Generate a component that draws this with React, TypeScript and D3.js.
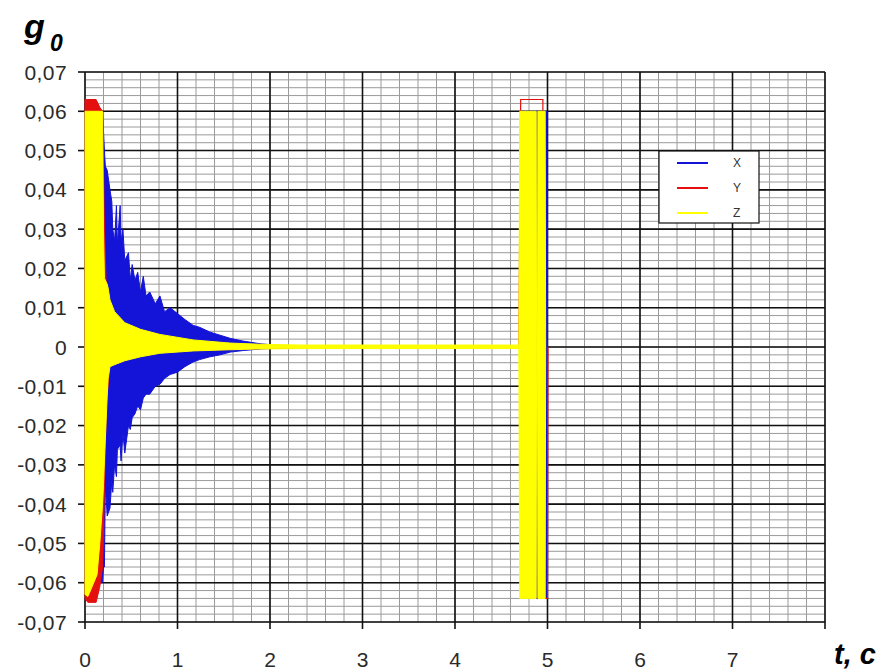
import React from "react";
import * as d3 from "d3";

// ---- Data ----
const xTicks = [0, 1, 2, 3, 4, 5, 6, 7];
const yTicks = [-0.07, -0.06, -0.05, -0.04, -0.03, -0.02, -0.01, 0, 0.01, 0.02, 0.03, 0.04, 0.05, 0.06, 0.07];
const seriesNames = ["X", "Y", "Z"];
const seriesColors = ["#1414d8", "#e41010", "#ffff00"];

// X (blue) envelope
const xTime = [0, 0.19, 0.2, 0.21, 0.22, 0.24, 0.27, 0.29, 0.3, 0.32, 0.34, 0.35, 0.38, 0.39, 0.41, 0.43, 0.47, 0.49, 0.51, 0.54, 0.57, 0.6, 0.63, 0.66, 0.7, 0.76, 0.81, 0.86, 0.92, 1.0, 1.08, 1.17, 1.24, 1.35, 1.46, 1.57, 1.71, 1.9, 2.11, 2.3, 4.7, 4.71, 4.995, 5.0];
const xUpper = [0.06, 0.06, 0.055, 0.05, 0.046, 0.045, 0.04, 0.037, 0.03, 0.027, 0.036, 0.026, 0.036, 0.027, 0.03, 0.022, 0.024, 0.017, 0.021, 0.017, 0.019, 0.014, 0.018, 0.013, 0.014, 0.011, 0.013, 0.009, 0.01, 0.0085, 0.007, 0.0055, 0.005, 0.0038, 0.003, 0.0022, 0.0015, 0.0008, 0.0004, 0.0002, 0.0002, 0.06, 0.06, 0.0002];
const xLower = [-0.06, -0.06, -0.056, -0.056, -0.035, -0.043, -0.041, -0.034, -0.037, -0.03, -0.033, -0.026, -0.025, -0.029, -0.022, -0.027, -0.02, -0.021, -0.018, -0.017, -0.015, -0.016, -0.013, -0.012, -0.012, -0.01, -0.0095, -0.008, -0.007, -0.0064, -0.005, -0.0038, -0.0032, -0.0025, -0.002, -0.0013, -0.0009, -0.0005, -0.0003, -0.0002, -0.0002, -0.064, -0.064, -0.0002];

// Y (red) envelope
const yTime = [0, 0.03, 0.12, 0.16, 0.19, 0.2, 0.21, 0.23, 0.27, 0.6, 1.2, 2.3, 4.7];
const yUpper = [0.063, 0.063, 0.063, 0.061, 0.06, 0.045, 0.03, 0.015, 0.008, 0.003, 0.001, 0.0002, 0.0002];
const yLower = [-0.064, -0.065, -0.065, -0.061, -0.056, -0.048, -0.035, -0.015, -0.004, -0.0015, -0.0008, -0.0002, -0.0002];
// Y (red) pulse near t = 5 s
const yPulseTime = [4.69, 4.71, 4.95, 4.955, 5.0, 5.005];
const yPulseValue = [0, 0.063, 0.063, -0.064, -0.064, 0];

// Z (yellow) envelope
const zTime = [0, 0.03, 0.05, 0.13, 0.16, 0.19, 0.2, 0.21, 0.24, 0.25, 0.27, 0.32, 0.43, 0.6, 0.81, 1.17, 1.57, 1.89, 2.32, 4.69, 4.7, 4.878, 4.882, 4.892, 4.896, 4.975, 4.98];
const zUpper = [0.06, 0.06, 0.06, 0.06, 0.06, 0.06, 0.03, 0.0175, 0.016, 0.015, 0.012, 0.009, 0.0062, 0.0045, 0.0032, 0.0018, 0.001, 0.0007, 0.0005, 0.0005, 0.06, 0.06, 0, 0, 0.06, 0.06, 0.0005];
const zLower = [-0.063, -0.0635, -0.0625, -0.058, -0.05, -0.04, -0.035, -0.029, -0.0125, -0.008, -0.005, -0.0045, -0.0035, -0.0025, -0.0016, -0.001, -0.0007, -0.0005, -0.0004, -0.0004, -0.064, -0.064, 0, 0, -0.064, -0.064, -0.0004];

type Env = { t: number; up: number; lo: number };
const env = (t: number[], u: number[], l: number[]): Env[] => t.map((tt, i) => ({ t: tt, up: u[i], lo: l[i] }));

const W = 892;
const H = 672;
const left = 85;
const right = 825;
const top = 72;
const bottom = 622;

export default function App() {
  const x = d3.scaleLinear().domain([0, 8]).range([left, right]);
  const y = d3.scaleLinear().domain([-0.07, 0.07]).range([bottom, top]);

  const area = d3
    .area<Env>()
    .x((d) => x(d.t))
    .y0((d) => y(d.lo))
    .y1((d) => y(d.up));
  const line = d3
    .line<number>()
    .x((_, i) => x(yPulseTime[i]))
    .y((v) => y(v));

  const minorX = d3.range(0, 41).map((i) => i * 0.2);
  const minorY = d3.range(0, 71).map((i) => -0.07 + i * 0.002);
  const majorX = d3.range(0, 9);

  const fmt = (v: number) => {
    if (Math.abs(v) < 1e-9) return "0";
    return (v < 0 ? "-" : "") + Math.abs(v).toFixed(2).replace(".", ",");
  };

  const xData = env(xTime, xUpper, xLower);
  const yData = env(yTime, yUpper, yLower);
  const zData = env(zTime, zUpper, zLower);

  return (
    <svg
      width={W}
      height={H}
      style={{ position: "absolute", left: 0, top: 0, background: "#fff" }}
      fontFamily="'Liberation Sans', Arial, sans-serif"
    >
      <rect x={0} y={0} width={W} height={H} fill="#fff" />
      {/* minor grid */}
      {minorX.map((t, i) => (
        <line key={"mx" + i} x1={x(t)} x2={x(t)} y1={top} y2={bottom} stroke="#9a9a9a" strokeWidth={1} />
      ))}
      {minorY.map((v, i) => (
        <line key={"my" + i} x1={left} x2={right} y1={y(v)} y2={y(v)} stroke="#9a9a9a" strokeWidth={1} />
      ))}
      {/* major grid */}
      {majorX.map((t) => (
        <line key={"Mx" + t} x1={x(t)} x2={x(t)} y1={top} y2={bottom} stroke="#111" strokeWidth={1.6} />
      ))}
      {yTicks.map((v, i) => (
        <line key={"My" + i} x1={left} x2={right} y1={y(v)} y2={y(v)} stroke="#111" strokeWidth={1.6} />
      ))}
      {/* axes ticks */}
      {yTicks.map((v, i) => (
        <line key={"ty" + i} x1={left - 7} x2={left} y1={y(v)} y2={y(v)} stroke="#111" strokeWidth={1.6} />
      ))}
      {xTicks.concat([8]).map((t) => (
        <line key={"tx" + t} x1={x(t)} x2={x(t)} y1={bottom} y2={bottom + 7} stroke="#111" strokeWidth={1.6} />
      ))}

      {/* series */}
      <path d={area(xData) ?? ""} fill={seriesColors[0]} stroke={seriesColors[0]} strokeWidth={1} />
      <path d={area(yData) ?? ""} fill={seriesColors[1]} stroke={seriesColors[1]} strokeWidth={1} />
      <path d={line(yPulseValue) ?? ""} fill="none" stroke={seriesColors[1]} strokeWidth={1.2} />
      <path d={area(zData) ?? ""} fill={seriesColors[2]} stroke={seriesColors[2]} strokeWidth={1} />

      {/* tick labels */}
      {yTicks.map((v, i) => (
        <text key={"ly" + i} x={67} y={y(v)} dy="0.36em" textAnchor="end" fontSize={21} letterSpacing={0.4} fill="#2a2a2a">
          {fmt(v)}
        </text>
      ))}
      {xTicks.map((t) => (
        <text key={"lx" + t} x={x(t)} y={667} textAnchor="middle" fontSize={21} fill="#2a2a2a">
          {t}
        </text>
      ))}

      {/* axis titles */}
      <text x={24} y={38} fontSize={34} fontWeight="bold" fontStyle="italic" fill="#000">
        g
      </text>
      <text x={50} y={51} fontSize={23} fontWeight="bold" fontStyle="italic" fill="#000">
        0
      </text>
      <text x={834} y={664} fontSize={29} fontWeight="bold" fontStyle="italic" fill="#000">
        t, c
      </text>

      {/* legend */}
      <rect x={659} y={151} width={100} height={72} fill="#fff" stroke="#111" strokeWidth={1.2} />
      {seriesNames.map((n, i) => (
        <g key={n}>
          <line x1={677} x2={708} y1={163 + i * 25} y2={163 + i * 25} stroke={seriesColors[i]} strokeWidth={2} />
          <text x={733} y={163 + i * 25} dy="0.36em" fontSize={12} fill="#333">
            {n}
          </text>
        </g>
      ))}
    </svg>
  );
}
